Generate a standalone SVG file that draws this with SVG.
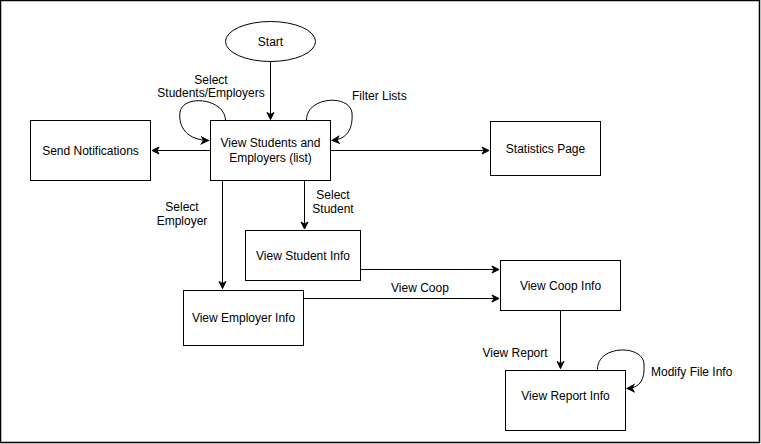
<svg xmlns="http://www.w3.org/2000/svg" width="761" height="444" viewBox="0 0 761 444">
<defs>
<marker id="ah" markerWidth="10" markerHeight="10" refX="8" refY="5" orient="auto" markerUnits="userSpaceOnUse">
<path d="M1,1.5 L8,5 L1,8.5 L3,5 Z" fill="#000" stroke="#000" stroke-width="1"/>
</marker>
</defs>
<style>
.n{fill:#fff;stroke:#000;stroke-width:1}
.c{fill:none;stroke:#000;stroke-width:1;marker-end:url(#ah)}
text{font-family:"Liberation Sans",Arial,sans-serif;font-size:12px;fill:#000}
.m{text-anchor:middle}
</style>
<rect x="0.5" y="0.5" width="759" height="442" fill="#fff" stroke="#000" stroke-width="1.5"/>
<g id="connectors">
<path class="c" d="M270.5,61.5 V119.5"/>
<path class="c" d="M210.5,150.5 H152"/>
<path class="c" d="M330.5,150.5 H489"/>
<path class="c" d="M222.5,180.5 V288.5"/>
<path class="c" d="M304.5,180.5 V229"/>
<path class="c" d="M360.5,269.5 H499"/>
<path class="c" d="M303.5,298.5 H499"/>
<path class="c" d="M560.5,310.5 V368.5"/>
<path class="c" d="M225.5,120.5 C225,98 183,94 180,112 C178,128 188,140 208.5,140.5"/>
<path class="c" d="M306.5,120.5 C306,96 350,94 352,113 C353,128 348,139 332,140.5"/>
<path class="c" d="M597.5,369.5 C597,345 643,344 644,364 C645,380 640,388 627,388.5"/>
</g>
<g id="start"><ellipse class="n" cx="270.5" cy="41.5" rx="45" ry="20"/><text class="m" x="270.5" y="45.5">Start</text></g>
<g id="list"><rect class="n" x="210.5" y="120.5" width="120" height="60"/><text class="m" x="270.5" y="147">View Students and</text><text class="m" x="270.5" y="162">Employers (list)</text></g>
<g id="notify"><rect class="n" x="30.5" y="120.5" width="120" height="60"/><text class="m" x="90.5" y="155">Send Notifications</text></g>
<g id="stats"><rect class="n" x="490.5" y="121.5" width="110" height="54"/><text class="m" x="545.5" y="153">Statistics Page</text></g>
<g id="student"><rect class="n" x="245.5" y="230.5" width="115" height="50"/><text class="m" x="303" y="260">View Student Info</text></g>
<g id="employer"><rect class="n" x="183.5" y="290.5" width="120" height="55"/><text class="m" x="243.5" y="321.5">View Employer Info</text></g>
<g id="coop"><rect class="n" x="500.5" y="260.5" width="120" height="50"/><text class="m" x="560.5" y="289.5">View Coop Info</text></g>
<g id="report"><rect class="n" x="505.5" y="370.5" width="120" height="60"/><text class="m" x="565.5" y="400">View Report Info</text></g>
<g id="labels">
<text class="m" x="211" y="84">Select</text>
<text class="m" x="211" y="97">Students/Employers</text>
<text x="352" y="100">Filter Lists</text>
<text class="m" x="333" y="199">Select</text>
<text class="m" x="333" y="213">Student</text>
<text class="m" x="182" y="211">Select</text>
<text class="m" x="182" y="225">Employer</text>
<text class="m" x="420" y="292">View Coop</text>
<text class="m" x="515" y="357">View Report</text>
<text x="651" y="376">Modify File Info</text>
</g>
</svg>
